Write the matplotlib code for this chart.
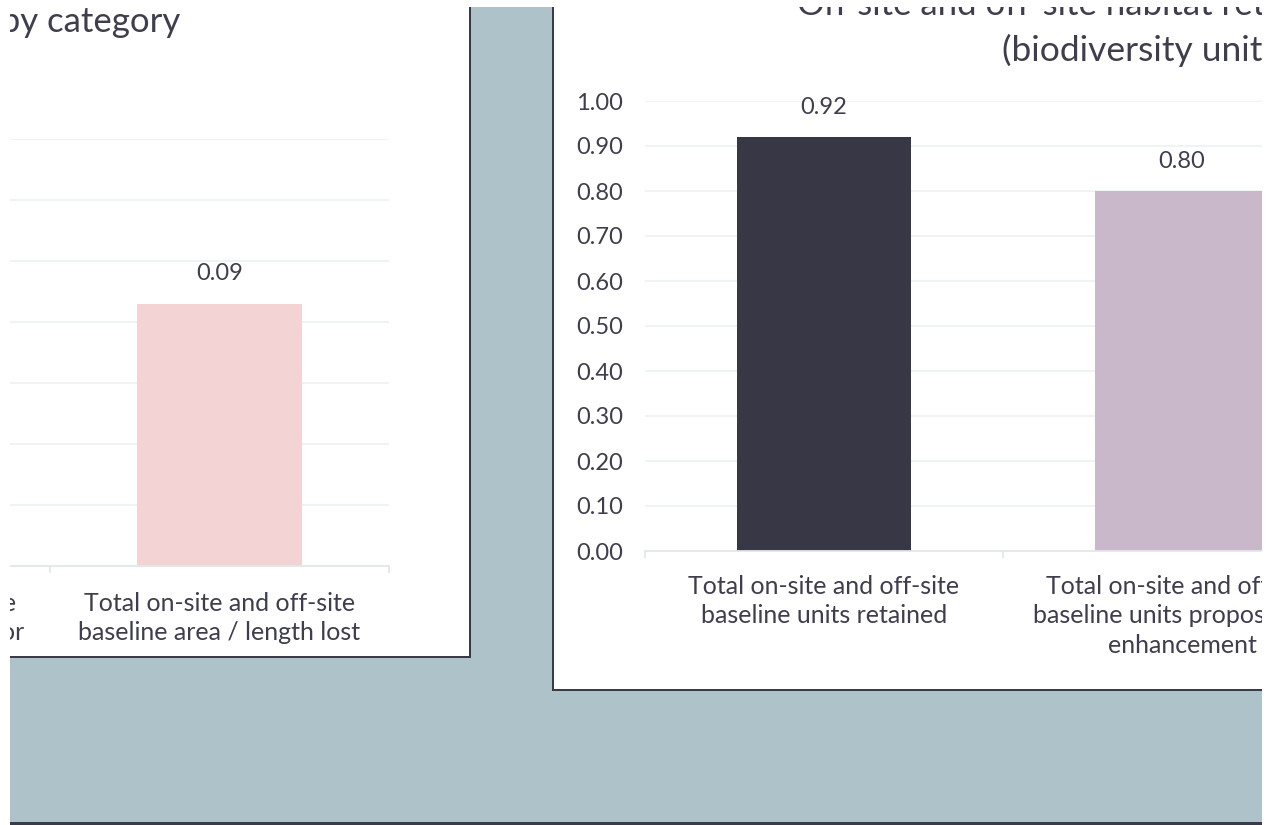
import numpy as np
import matplotlib
matplotlib.use("Agg")
import matplotlib.pyplot as plt
from matplotlib.patches import Rectangle

# figure size in pixels (dpi 100)
W, H = 1276, 825

# left chart: habitat area / length by category (only the last two categories are in view)
area_categories = ["Total on-site and off-site\narea / length proposed for\nenhancement",
                   "Total on-site and off-site\nbaseline area / length lost"]
area_values = [np.nan, 0.086]          # first bar is outside the visible crop
area_colors = ["#c9b8ca", "#f4d3d5"]

# right chart: habitat retention in biodiversity units
unit_categories = ["Total on-site and off-site\nbaseline units retained",
                   "Total on-site and off-site\nbaseline units proposed for\nenhancement"]
unit_values = [0.92, 0.80]
unit_colors = ["#383745", "#c9b8ca"]

TEXT = "#3e3e4c"
GRID = "#edf2f2"
BASE = "#e2e8e8"
BORDER = "#3a3a48"
BG = "#adc3c9"

plt.rcParams["font.family"] = "Lato"

fig = plt.figure(figsize=(W / 100, H / 100), dpi=100)
fig.patch.set_facecolor("white")


def px_rect(x0, y0, x1, y1, **kw):
    # rectangle given in pixel coords (origin top-left)
    r = Rectangle((x0 / W, 1 - y1 / H), (x1 - x0) / W, (y1 - y0) / H,
                  transform=fig.transFigure, **kw)
    fig.patches.append(r)
    return r


# dashboard background and panels
px_rect(10, 7, 1262, 825, facecolor=BG, edgecolor="none", zorder=-5)
px_rect(10, 822, 1262, 825, facecolor=BORDER, edgecolor="none", zorder=-5)
px_rect(-5, -5, 471, 658, facecolor=BORDER, edgecolor="none", zorder=-4)
px_rect(-5, -5, 469, 656, facecolor="white", edgecolor="none", zorder=-3)
px_rect(552, -5, 1300, 691, facecolor=BORDER, edgecolor="none", zorder=-4)
px_rect(554, -5, 1300, 689, facecolor="white", edgecolor="none", zorder=-3)


def bar_chart(x0, y_top, x1, y_base, categories, values, colors, ymax, step, ylabels, pad):
    ax = fig.add_axes([x0 / W, 1 - y_base / H, (x1 - x0) / W, (y_base - y_top) / H])
    ax.set_facecolor("none")
    pos = np.arange(len(categories))
    for i, (v, c) in enumerate(zip(values, colors)):
        if np.isnan(v):
            continue
        ax.bar(pos[i], v, width=0.487, color=c, zorder=2)
        ax.annotate(f"{v:.2f}", (pos[i], v), xytext=(0, 21.5), textcoords="offset points",
                    ha="center", va="center", fontsize=17, color=TEXT)
    ax.set_xlim(-0.5, len(categories) - 0.5)
    ax.set_ylim(0, ymax)
    ax.set_yticks(np.arange(0, ymax + step / 2, step))
    ax.yaxis.grid(True, color=GRID, lw=1.3)
    ax.set_axisbelow(True)
    for s in ["top", "right", "left"]:
        ax.spines[s].set_visible(False)
    ax.spines["bottom"].set_color(BASE)
    ax.spines["bottom"].set_linewidth(1.3)
    ax.set_xticks(pos)
    ax.set_xticklabels(categories, fontsize=18, color=TEXT, linespacing=1.34, va="top")
    ax.set_xticks(np.arange(-0.5, len(categories)), minor=True)
    ax.tick_params(axis="x", which="major", length=0, pad=pad)
    ax.tick_params(axis="x", which="minor", length=5, color=BASE, width=1.3)
    ax.tick_params(axis="y", length=0, pad=16, labelsize=17, labelcolor=TEXT)
    if ylabels:
        ax.set_yticklabels([f"{t:.2f}" for t in ax.get_yticks()])
    else:
        ax.set_yticklabels([])
    return ax


bar_chart(-289, 139, 389, 566, area_categories, area_values, area_colors, 0.14, 0.02, False, 18.5)
bar_chart(645, 101, 1361, 551, unit_categories, unit_values, unit_colors, 1.0, 0.1, True, 17.2)

# titles (partly cut off by the screenshot edges)
fig.text(180 / W, 1 - 32 / H, "On-site and off-site habitat change by category",
         ha="right", va="baseline", fontsize=25, color=TEXT)
fig.text(797 / W, 1 - 15 / H, "On-site and off-site habitat retention and enhancement",
         ha="left", va="baseline", fontsize=25, color=TEXT)
fig.text(1002 / W, 1 - 61 / H, "(biodiversity units)",
         ha="left", va="baseline", fontsize=25.5, color=TEXT)

# crop edges of the screenshot
px_rect(-5, -5, 10, 830, facecolor="white", edgecolor="none", zorder=20)
px_rect(1262, -5, 1290, 830, facecolor="white", edgecolor="none", zorder=20)
px_rect(-5, -5, 1290, 7, facecolor="white", edgecolor="none", zorder=20)

fig.savefig("out.png", dpi=100)
